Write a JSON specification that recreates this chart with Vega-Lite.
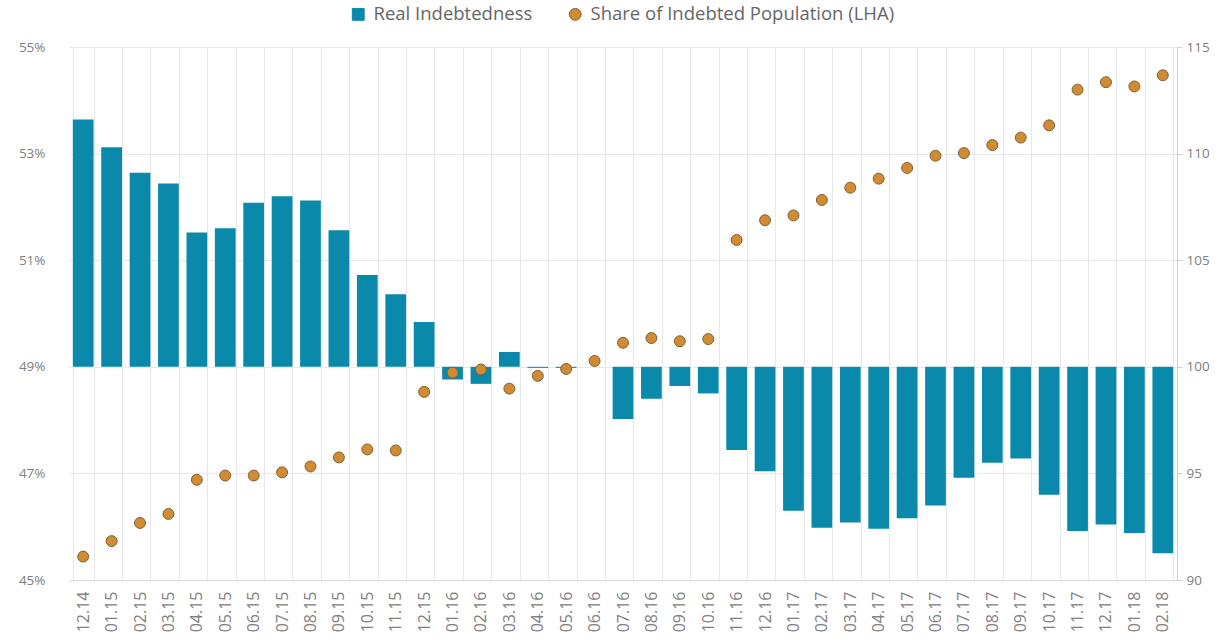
{
  "$schema": "https://vega.github.io/schema/vega-lite/v6.json",
  "width": 1108,
  "height": 533,
  "autosize": "none",
  "padding": {"left": 69, "top": 47, "right": 54, "bottom": 63},
  "background": "white",
  "config": {
    "view": {"stroke": null},
    "font": "Open Sans",
    "axis": {"labelFont": "Open Sans", "labelColor": "#808080", "title": null}
  },
  "data": {
    "values": [
      {"month": "12.14", "real": 111.6, "share": 45.44},
      {"month": "01.15", "real": 110.3, "share": 45.73},
      {"month": "02.15", "real": 109.1, "share": 46.07},
      {"month": "03.15", "real": 108.6, "share": 46.24},
      {"month": "04.15", "real": 106.3, "share": 46.88},
      {"month": "05.15", "real": 106.5, "share": 46.96},
      {"month": "06.15", "real": 107.7, "share": 46.96},
      {"month": "07.15", "real": 108.0, "share": 47.02},
      {"month": "08.15", "real": 107.8, "share": 47.13},
      {"month": "09.15", "real": 106.4, "share": 47.30},
      {"month": "10.15", "real": 104.3, "share": 47.45},
      {"month": "11.15", "real": 103.4, "share": 47.43},
      {"month": "12.15", "real": 102.1, "share": 48.53},
      {"month": "01.16", "real": 99.4, "share": 48.89},
      {"month": "02.16", "real": 99.2, "share": 48.95},
      {"month": "03.16", "real": 100.7, "share": 48.59},
      {"month": "04.16", "real": 99.95, "share": 48.83},
      {"month": "05.16", "real": 99.95, "share": 48.96},
      {"month": "06.16", "real": 100.0, "share": 49.11},
      {"month": "07.16", "real": 97.55, "share": 49.45},
      {"month": "08.16", "real": 98.5, "share": 49.54},
      {"month": "09.16", "real": 99.1, "share": 49.48},
      {"month": "10.16", "real": 98.75, "share": 49.52},
      {"month": "11.16", "real": 96.1, "share": 51.38},
      {"month": "12.16", "real": 95.1, "share": 51.75},
      {"month": "01.17", "real": 93.25, "share": 51.84},
      {"month": "02.17", "real": 92.45, "share": 52.13},
      {"month": "03.17", "real": 92.7, "share": 52.36},
      {"month": "04.17", "real": 92.4, "share": 52.53},
      {"month": "05.17", "real": 92.9, "share": 52.73},
      {"month": "06.17", "real": 93.5, "share": 52.96},
      {"month": "07.17", "real": 94.8, "share": 53.01},
      {"month": "08.17", "real": 95.5, "share": 53.16},
      {"month": "09.17", "real": 95.7, "share": 53.30},
      {"month": "10.17", "real": 94.0, "share": 53.53},
      {"month": "11.17", "real": 92.3, "share": 54.20},
      {"month": "12.17", "real": 92.6, "share": 54.34},
      {"month": "01.18", "real": 92.2, "share": 54.26},
      {"month": "02.18", "real": 91.25, "share": 54.47}
    ]
  },
  "encoding": {
    "x": {
      "field": "month",
      "type": "ordinal",
      "sort": null,
      "scale": {"paddingInner": 0.27, "paddingOuter": 0.135},
      "axis": {
        "labelAngle": -90,
        "labelFontSize": 16,
        "labelPadding": 11,
        "ticks": false,
        "domain": true,
        "domainColor": "#d9d9d9",
        "grid": true,
        "gridColor": "#e8e8e8",
        "tickBand": "extent"
      }
    }
  },
  "layer": [
    {
      "mark": {"type": "bar"},
      "encoding": {
        "y": {
          "field": "real",
          "type": "quantitative",
          "scale": {"domain": [90, 115], "nice": false, "zero": false},
          "axis": {
            "orient": "right",
            "values": [90, 95, 100, 105, 110, 115],
            "grid": false,
            "ticks": true,
            "tickSize": 5,
            "tickColor": "#d0d0d0",
            "domain": true,
            "domainColor": "#d0d0d0",
            "labelPadding": 4,
            "labelFontSize": 13.5
          }
        },
        "y2": {"datum": 100},
        "color": {
          "datum": "Real Indebtedness",
          "scale": {
            "domain": ["Real Indebtedness", "Share of Indebted Population (LHA)"],
            "range": ["#0b89aa", "#d18b32"]
          },
          "legend": {
            "title": null,
            "orient": "none",
            "direction": "horizontal",
            "legendX": 280,
            "legendY": -42,
            "padding": 0,
            "labelFontSize": 18.5,
            "labelColor": "#666666",
            "labelLimit": 600,
            "labelOffset": 6,
            "columnPadding": 33,
            "symbolSize": 140,
            "encode": {
              "symbols": {
                "update": {
                  "shape": {"signal": "datum.value === 'Real Indebtedness' ? 'square' : 'circle'"},
                  "stroke": {"signal": "datum.value === 'Real Indebtedness' ? '#0b89aa' : '#806035'"},
                  "strokeWidth": {"value": 1}
                }
              }
            }
          }
        }
      }
    },
    {
      "mark": {"type": "point", "filled": true, "size": 120, "stroke": "#806035", "strokeWidth": 1, "opacity": 1},
      "encoding": {
        "y": {
          "field": "share",
          "type": "quantitative",
          "scale": {"domain": [45, 55], "nice": false, "zero": false},
          "axis": {
            "orient": "left",
            "values": [45, 47, 49, 51, 53, 55],
            "labelExpr": "datum.value + '%'",
            "grid": true,
            "gridColor": "#e8e8e8",
            "ticks": false,
            "domain": false,
            "labelPadding": 24,
            "labelFontSize": 13.5
          }
        },
        "color": {"datum": "Share of Indebted Population (LHA)"}
      }
    }
  ],
  "resolve": {"scale": {"y": "independent"}}
}
